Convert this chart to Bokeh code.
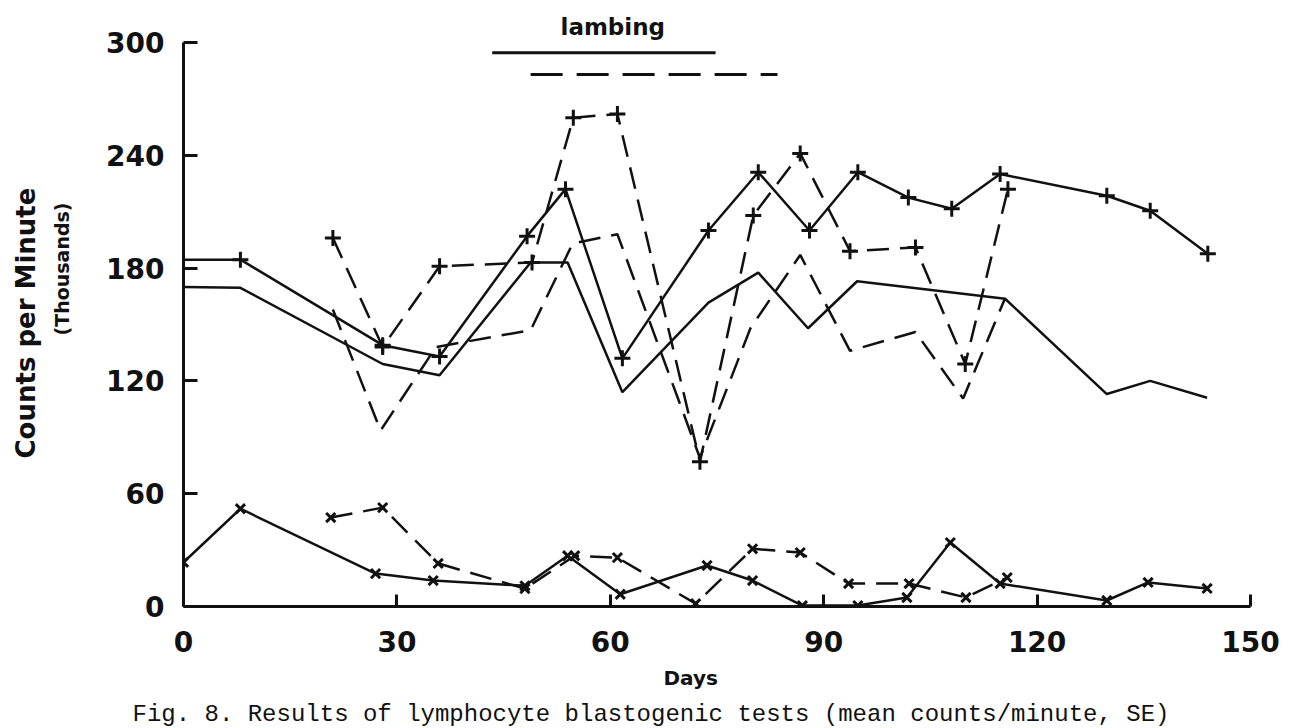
from bokeh.plotting import figure
from bokeh.models import Range1d, FixedTicker, Title
from bokeh.embed import file_html
from bokeh.resources import INLINE

# ---- axes ----
x_ticks = [0, 30, 60, 90, 120, 150]
y_ticks = [0, 60, 120, 180, 240, 300]

# ---- upper group (counts per minute, thousands) ----
# A: solid line, "+" markers
a_days = [0, 8, 28, 36, 48.3, 53.7, 61.7, 73.8, 80.8, 88, 94.8, 101.9, 108, 114.8, 129.8, 135.9, 144]
a_vals = [184.5, 184.5, 139, 133, 197, 222, 132, 200, 231, 200, 231, 217.5, 211.6, 230, 218.5, 210.5, 187.6]

# B: solid line, no markers
b_days = [0, 8, 28, 36, 48.8, 54, 61.7, 73.8, 80.8, 87.8, 94.7, 115.5, 129.8, 135.9, 143.9]
b_vals = [170, 169.5, 129, 123, 183, 183, 114, 161.6, 177.6, 148, 173, 163.7, 113, 120, 111]

# C: dashed line, "+" markers
c_days = [21, 28, 36, 49, 54.8, 61, 72.6, 80.1, 86.7, 93.7, 102.9, 109.9, 115.9]
c_vals = [196, 138, 181, 183, 260, 262, 77, 208, 241, 189, 191, 129, 222]

# D: dashed line, no markers
d_days = [21, 27.7, 35.5, 48.8, 54.7, 61, 72.6, 79.7, 86.7, 93.7, 102.9, 109.6, 115.5]
d_vals = [158, 93.6, 138, 147, 193, 198, 79, 148, 187, 136, 146, 110.6, 164]

# ---- lower group ----
# E: solid line, "x" markers
e_days = [0, 8, 27, 35.1, 48, 54, 61.4, 73.6, 80, 87, 94.8, 101.7, 107.8, 114.8, 129.8, 135.6, 143.9]
e_vals = [23.5, 52, 17.5, 13.8, 11, 27, 6.5, 21.8, 13.8, 0.5, 0.5, 4.8, 34, 12.2, 3.2, 12.8, 9.6]

# F: dashed line, "x" markers
f_days = [20.7, 28, 35.8, 48, 55, 61, 72, 80, 86.7, 93.5, 102, 110, 115.8]
f_vals = [47.3, 52.6, 22.9, 9.5, 27, 26, 1.5, 30.7, 28.7, 12.2, 12.2, 4.8, 15.4]

# ---- lambing periods (days) ----
lambing_solid = [43.4, 74.8]
lambing_dashed = [48.8, 83.5]
lambing_solid_level = [294.5, 294.5]
lambing_dashed_level = [283, 283]

# ---- texts ----
lambing_text = "lambing"
y_label_1 = "Counts per Minute"
y_label_2 = "(Thousands)"
x_label = "Days"
caption = "Fig. 8. Results of lymphocyte blastogenic tests (mean counts/minute, SE)"

INK = "#111111"
DASH = "22 11"

p = figure(frame_width=1067, frame_height=564,
           x_range=Range1d(0, 150), y_range=Range1d(0, 300),
           output_backend="svg", toolbar_location=None,
           min_border_left=183, min_border_right=33,
           min_border_top=42, min_border_bottom=114)
p.outline_line_color = None
p.xgrid.grid_line_color = None
p.ygrid.grid_line_color = None
p.background_fill_color = "white"
p.border_fill_color = "white"

for ax, ticks, tin, standoff in ((p.xaxis[0], x_ticks, 12, 24), (p.yaxis[0], y_ticks, 14, 19)):
    ax.ticker = FixedTicker(ticks=ticks)
    ax.minor_tick_line_color = None
    ax.major_tick_in = tin
    ax.major_tick_out = 0
    ax.major_tick_line_width = 3
    ax.major_tick_line_color = INK
    ax.axis_line_width = 3
    ax.axis_line_color = INK
    ax.major_label_text_font = "DejaVu Sans"
    ax.major_label_text_font_style = "bold"
    ax.major_label_text_font_size = "28px"
    ax.major_label_text_color = INK
    ax.major_label_standoff = standoff

# a blank axis label only reserves the gap between tick labels and "(Thousands)"
yax = p.yaxis[0]
yax.axis_label = "\u00a0"
yax.axis_label_standoff = 24
yax.axis_label_text_font_size = "1px"

# lines
p.line(a_days, a_vals, line_color=INK, line_width=2.5)
p.scatter(a_days[1:], a_vals[1:], marker="cross", size=16, line_color=INK, line_width=3)

p.line(b_days, b_vals, line_color=INK, line_width=2.5)

p.line(c_days, c_vals, line_color=INK, line_width=2.5, line_dash=DASH)
p.scatter(c_days, c_vals, marker="cross", size=16, line_color=INK, line_width=3)

p.line(d_days, d_vals, line_color=INK, line_width=2.5, line_dash=DASH)

p.line(e_days, e_vals, line_color=INK, line_width=2.5)
p.scatter(e_days, e_vals, marker="x", size=13, line_color=INK, line_width=3)

p.line(f_days, f_vals, line_color=INK, line_width=2.5, line_dash=DASH)
p.scatter(f_days, f_vals, marker="x", size=13, line_color=INK, line_width=3)

# lambing bars
p.line(lambing_solid, lambing_solid_level, line_color=INK, line_width=3)
p.line(lambing_dashed, lambing_dashed_level, line_color=INK, line_width=3, line_dash="32 14")

# texts placed in the side panels
p.add_layout(Title(text=lambing_text, align="left", offset=377, standoff=6,
                   text_font="DejaVu Sans", text_font_style="bold", text_font_size="23px",
                   text_color=INK), "above")
p.add_layout(Title(text=y_label_2, align="left", offset=271, standoff=4,
                   text_font="DejaVu Sans", text_font_style="bold", text_font_size="19px",
                   text_color=INK), "left")
p.add_layout(Title(text=y_label_1, align="left", offset=148, standoff=12,
                   text_font="DejaVu Sans", text_font_style="bold", text_font_size="26px",
                   text_color=INK), "left")
p.add_layout(Title(text=x_label, align="left", offset=480, standoff=18,
                   text_font="DejaVu Sans", text_font_style="bold", text_font_size="20px",
                   text_color=INK), "below")
p.add_layout(Title(text=caption, align="left", offset=-51, standoff=0,
                   text_font="Liberation Mono", text_font_style="normal", text_font_size="24px",
                   text_color=INK), "below")

open("out.html", "w").write(file_html(p, INLINE))
